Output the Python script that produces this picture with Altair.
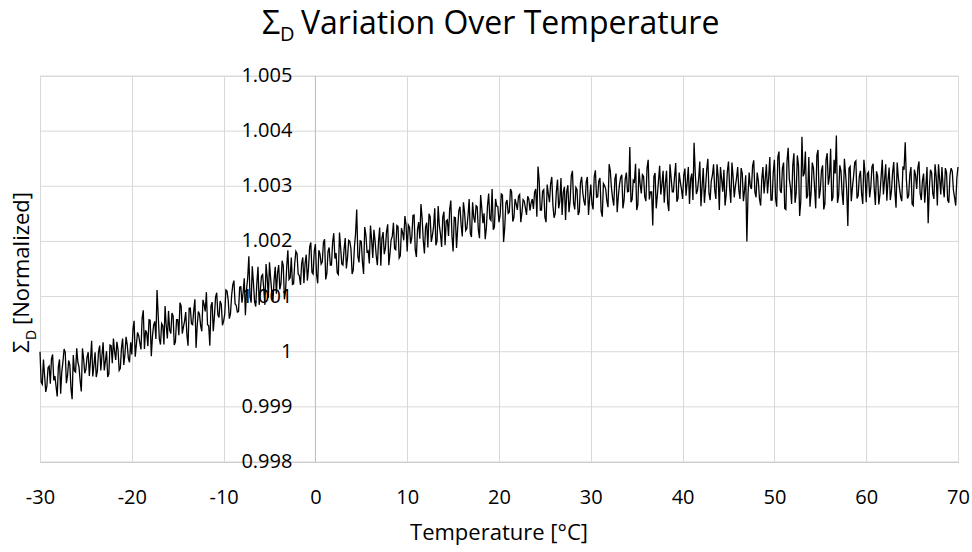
import altair as alt
import pandas as pd

# Temperature sweep: one block of readings per 10 °C.
# "a" readings at start + k*0.25 °C, "b" readings at start + 0.125 + k*0.25 °C
seg_starts = [-30, -20, -10, 0, 10, 20, 30, 40, 50, 60]
step = 0.25
half = 0.125

seg_m30 = [1.00000, 0.99941, 0.99957, 0.99938, 0.99974, 0.99987, 0.99948, 0.99937, 0.99973, 0.99924,
           0.99982, 0.99999, 0.99957, 0.99976, 0.99914, 0.99965, 1.00006, 0.99972, 0.99928, 0.99987,
           0.99968, 0.99999, 0.99984, 0.99955, 0.99999, 0.99965, 1.00011, 0.99993, 0.99966, 1.00001,
           0.99960, 1.00011, 1.00024, 0.99985, 1.00004, 0.99970, 1.00024, 0.99995, 1.00013, 0.99981]
seg_m30_b = [0.99945, 0.99986, 0.99927, 0.99971, 0.99942, 0.99995, 0.99956, 0.99919, 0.99986, 0.99964,
             1.00005, 0.99943, 0.99984, 0.99933, 0.99994, 0.99963, 0.99981, 0.99947, 1.00006, 0.99961,
             0.99990, 0.99956, 1.00020, 0.99975, 0.99954, 1.00000, 0.99966, 1.00017, 0.99983, 0.99954,
             1.00012, 0.99979, 1.00000, 1.00018, 0.99966, 1.00007, 0.99976, 1.00027, 0.99988, 1.00017]
seg_m20 = [0.99995, 1.00056, 1.00013, 1.00029, 1.00004, 1.00075, 1.00039, 1.00010, 1.00057, 1.00028,
           1.00055, 1.00112, 1.00023, 1.00051, 1.00013, 1.00047, 1.00074, 1.00033, 1.00065, 1.00018,
           1.00058, 1.00089, 1.00033, 1.00056, 1.00031, 1.00079, 1.00051, 1.00075, 1.00007, 1.00073,
           1.00047, 1.00094, 1.00073, 1.00049, 1.00011, 1.00090, 1.00064, 1.00107, 1.00062, 1.00086]
seg_m20_b = [1.00040, 0.99991, 1.00035, 1.00016, 1.00061, 1.00005, 1.00034, 1.00058, 0.99992, 1.00048,
             1.00023, 1.00066, 1.00013, 1.00047, 1.00083, 1.00024, 1.00039, 1.00070, 1.00012, 1.00058,
             1.00030, 1.00083, 1.00045, 1.00072, 1.00011, 1.00079, 1.00049, 1.00095, 1.00047, 1.00068,
             1.00037, 1.00086, 1.00108, 1.00047, 1.00083, 1.00037, 1.00099, 1.00067, 1.00092, 1.00048]
seg_m10 = [1.00055, 1.00112, 1.00094, 1.00069, 1.00121, 1.00087, 1.00072, 1.00117, 1.00089, 1.00133,
           1.00113, 1.00173, 1.00089, 1.00125, 1.00082, 1.00154, 1.00111, 1.00140, 1.00085, 1.00134,
           1.00162, 1.00108, 1.00130, 1.00105, 1.00157, 1.00124, 1.00156, 1.00110, 1.00184, 1.00134,
           1.00122, 1.00161, 1.00178, 1.00138, 1.00160, 1.00124, 1.00176, 1.00152, 1.00198, 1.00141]
seg_m10_b = [1.00068, 1.00110, 1.00060, 1.00102, 1.00129, 1.00084, 1.00073, 1.00118, 1.00107, 1.00066,
             1.00134, 1.00100, 1.00155, 1.00091, 1.00125, 1.00085, 1.00137, 1.00114, 1.00159, 1.00098,
             1.00133, 1.00092, 1.00154, 1.00143, 1.00113, 1.00165, 1.00095, 1.00154, 1.00131, 1.00171,
             1.00123, 1.00182, 1.00141, 1.00121, 1.00171, 1.00160, 1.00129, 1.00190, 1.00144, 1.00182]
seg_0 = [1.00195, 1.00124, 1.00177, 1.00163, 1.00204, 1.00142, 1.00189, 1.00157, 1.00215, 1.00179,
         1.00140, 1.00188, 1.00157, 1.00206, 1.00171, 1.00200, 1.00141, 1.00190, 1.00258, 1.00162,
         1.00200, 1.00141, 1.00212, 1.00183, 1.00229, 1.00170, 1.00201, 1.00157, 1.00225, 1.00206,
         1.00177, 1.00218, 1.00157, 1.00203, 1.00234, 1.00185, 1.00227, 1.00174, 1.00216, 1.00246]
seg_0_b = [1.00140, 1.00184, 1.00159, 1.00198, 1.00131, 1.00182, 1.00157, 1.00198, 1.00169, 1.00143,
           1.00216, 1.00159, 1.00186, 1.00151, 1.00202, 1.00186, 1.00148, 1.00214, 1.00173, 1.00201,
           1.00162, 1.00226, 1.00181, 1.00160, 1.00203, 1.00221, 1.00174, 1.00200, 1.00156, 1.00217,
           1.00188, 1.00231, 1.00178, 1.00209, 1.00187, 1.00229, 1.00170, 1.00224, 1.00202, 1.00230]
seg_10 = [1.00182, 1.00226, 1.00207, 1.00248, 1.00172, 1.00235, 1.00268, 1.00202, 1.00226, 1.00189,
          1.00245, 1.00211, 1.00260, 1.00201, 1.00229, 1.00190, 1.00254, 1.00237, 1.00210, 1.00274,
          1.00182, 1.00243, 1.00224, 1.00263, 1.00209, 1.00253, 1.00224, 1.00277, 1.00208, 1.00244,
          1.00265, 1.00221, 1.00284, 1.00233, 1.00204, 1.00265, 1.00241, 1.00295, 1.00226, 1.00264]
seg_10_b = [1.00230, 1.00196, 1.00247, 1.00185, 1.00222, 1.00205, 1.00242, 1.00178, 1.00234, 1.00250,
            1.00199, 1.00227, 1.00193, 1.00264, 1.00213, 1.00244, 1.00193, 1.00239, 1.00258, 1.00211,
            1.00244, 1.00188, 1.00256, 1.00230, 1.00271, 1.00220, 1.00247, 1.00215, 1.00271, 1.00234,
            1.00263, 1.00206, 1.00260, 1.00251, 1.00225, 1.00287, 1.00238, 1.00221, 1.00277, 1.00263]
seg_20 = [1.00235, 1.00286, 1.00199, 1.00270, 1.00251, 1.00295, 1.00236, 1.00277, 1.00257, 1.00285,
          1.00252, 1.00273, 1.00248, 1.00277, 1.00270, 1.00259, 1.00295, 1.00336, 1.00257, 1.00291,
          1.00244, 1.00303, 1.00271, 1.00317, 1.00243, 1.00291, 1.00260, 1.00315, 1.00289, 1.00239,
          1.00302, 1.00274, 1.00328, 1.00258, 1.00294, 1.00254, 1.00317, 1.00273, 1.00308, 1.00248]
seg_20_b = [1.00248, 1.00284, 1.00225, 1.00275, 1.00253, 1.00290, 1.00243, 1.00268, 1.00282, 1.00235,
            1.00276, 1.00261, 1.00282, 1.00256, 1.00277, 1.00289, 1.00245, 1.00311, 1.00257, 1.00294,
            1.00235, 1.00286, 1.00305, 1.00265, 1.00251, 1.00312, 1.00273, 1.00248, 1.00299, 1.00290,
            1.00253, 1.00319, 1.00270, 1.00298, 1.00248, 1.00306, 1.00289, 1.00265, 1.00317, 1.00278]
seg_30 = [1.00303, 1.00258, 1.00329, 1.00281, 1.00315, 1.00245, 1.00301, 1.00273, 1.00340, 1.00297,
          1.00265, 1.00323, 1.00282, 1.00316, 1.00260, 1.00313, 1.00290, 1.00371, 1.00276, 1.00308,
          1.00257, 1.00332, 1.00287, 1.00318, 1.00273, 1.00348, 1.00290, 1.00229, 1.00324, 1.00284,
          1.00337, 1.00304, 1.00270, 1.00328, 1.00255, 1.00315, 1.00290, 1.00342, 1.00278, 1.00308]
seg_30_b = [1.00268, 1.00318, 1.00280, 1.00310, 1.00255, 1.00305, 1.00295, 1.00262, 1.00328, 1.00278,
            1.00313, 1.00253, 1.00303, 1.00321, 1.00275, 1.00325, 1.00291, 1.00271, 1.00311, 1.00341,
            1.00266, 1.00304, 1.00321, 1.00281, 1.00333, 1.00276, 1.00290, 1.00318, 1.00260, 1.00310,
            1.00285, 1.00328, 1.00305, 1.00270, 1.00340, 1.00290, 1.00318, 1.00272, 1.00325, 1.00295]
seg_40 = [1.00277, 1.00332, 1.00308, 1.00268, 1.00323, 1.00379, 1.00286, 1.00314, 1.00264, 1.00333,
          1.00297, 1.00350, 1.00275, 1.00320, 1.00293, 1.00340, 1.00257, 1.00313, 1.00330, 1.00285,
          1.00345, 1.00270, 1.00317, 1.00300, 1.00335, 1.00277, 1.00323, 1.00293, 1.00200, 1.00325,
          1.00295, 1.00347, 1.00280, 1.00310, 1.00265, 1.00335, 1.00313, 1.00287, 1.00353, 1.00275]
seg_40_b = [1.00320, 1.00283, 1.00335, 1.00313, 1.00275, 1.00325, 1.00293, 1.00345, 1.00300, 1.00270,
            1.00330, 1.00287, 1.00310, 1.00340, 1.00277, 1.00317, 1.00335, 1.00290, 1.00265, 1.00327,
            1.00297, 1.00343, 1.00280, 1.00315, 1.00293, 1.00333, 1.00273, 1.00320, 1.00285, 1.00300,
            1.00337, 1.00290, 1.00325, 1.00277, 1.00313, 1.00287, 1.00340, 1.00315, 1.00275, 1.00325]
seg_50 = [1.00348, 1.00263, 1.00363, 1.00288, 1.00343, 1.00258, 1.00370, 1.00298, 1.00338, 1.00270,
          1.00356, 1.00246, 1.00390, 1.00323, 1.00278, 1.00353, 1.00288, 1.00333, 1.00260, 1.00366,
          1.00293, 1.00338, 1.00268, 1.00360, 1.00318, 1.00273, 1.00348, 1.00392, 1.00283, 1.00328,
          1.00266, 1.00323, 1.00228, 1.00336, 1.00298, 1.00343, 1.00278, 1.00318, 1.00286, 1.00348]
seg_50_b = [1.00278, 1.00353, 1.00293, 1.00333, 1.00260, 1.00346, 1.00313, 1.00268, 1.00360, 1.00288,
            1.00338, 1.00273, 1.00318, 1.00363, 1.00283, 1.00263, 1.00343, 1.00298, 1.00356, 1.00278,
            1.00328, 1.00258, 1.00348, 1.00303, 1.00368, 1.00280, 1.00323, 1.00270, 1.00338, 1.00288,
            1.00350, 1.00293, 1.00333, 1.00273, 1.00318, 1.00346, 1.00283, 1.00328, 1.00268, 1.00323]
seg_60 = [1.00271, 1.00326, 1.00298, 1.00341, 1.00266, 1.00318, 1.00286, 1.00348, 1.00311, 1.00274,
          1.00334, 1.00291, 1.00344, 1.00261, 1.00316, 1.00281, 1.00336, 1.00380, 1.00278, 1.00321,
          1.00268, 1.00330, 1.00295, 1.00345, 1.00275, 1.00323, 1.00300, 1.00233, 1.00330, 1.00287,
          1.00340, 1.00265, 1.00313, 1.00335, 1.00280, 1.00325, 1.00270, 1.00333, 1.00293, 1.00265,
          1.00335]
seg_60_b = [1.00323, 1.00280, 1.00335, 1.00295, 1.00327, 1.00267, 1.00317, 1.00285, 1.00340, 1.00310,
            1.00275, 1.00325, 1.00290, 1.00343, 1.00297, 1.00273, 1.00330, 1.00313, 1.00283, 1.00335,
            1.00265, 1.00320, 1.00333, 1.00287, 1.00310, 1.00270, 1.00335, 1.00295, 1.00325, 1.00277,
            1.00317, 1.00340, 1.00285, 1.00300, 1.00333, 1.00275, 1.00320, 1.00327, 1.00280, 1.00315]

segments_a = [seg_m30, seg_m20, seg_m10, seg_0, seg_10, seg_20, seg_30, seg_40, seg_50, seg_60]
segments_b = [seg_m30_b, seg_m20_b, seg_m10_b, seg_0_b, seg_10_b, seg_20_b, seg_30_b, seg_40_b,
              seg_50_b, seg_60_b]

x_ticks = [-30, -20, -10, 0, 10, 20, 30, 40, 50, 60, 70]
y_ticks = [0.998, 0.999, 1.0, 1.001, 1.002, 1.003, 1.004, 1.005]
y_labels = ["0.998", "0.999", "1", "1.001", "1.002", "1.003", "1.004", "1.005"]

title_main = "Variation Over Temperature"
sigma = "Σ"
sub_d = "D"
y_title_rest = "[Normalized]"
x_title = "Temperature [°C]"

temps, vals = [], []
for start, seg_a, seg_b in zip(seg_starts, segments_a, segments_b):
    for i, v in enumerate(seg_a):
        temps.append(start + i * step)
        vals.append(v)
    for i, v in enumerate(seg_b):
        temps.append(start + half + i * step)
        vals.append(v)
df = pd.DataFrame({"temp": temps, "sigma": vals}).sort_values("temp").reset_index(drop=True)

W, H = 918, 386
FONT = "Open Sans"
xs = alt.Scale(domain=[x_ticks[0], x_ticks[-1]], nice=False, zero=False)
ys = alt.Scale(domain=[y_ticks[0], y_ticks[-1]], nice=False, zero=False)

x_axis = alt.Axis(
    values=x_ticks, grid=True, gridColor="#d9d9d9", gridWidth=1,
    ticks=False, domainColor="#bfbfbf", domainWidth=1,
    labelPadding=25, labelFontSize=20, labelColor="black", labelFont=FONT,
    labelFlush=False, labelOverlap=False, labelExpr="datum.value + ''",
    title=None)

grid_y = alt.Chart(pd.DataFrame({"v": y_ticks})).mark_rule(
    color="#d9d9d9", strokeWidth=1
).encode(
    y=alt.Y("v:Q", scale=ys, axis=None),
    x=alt.value(0),
    x2=alt.value(W),
)

# vertical value axis line crossing at 0 °C
zero_axis = alt.Chart(pd.DataFrame({"temp": [0]})).mark_rule(
    color="#bfbfbf", strokeWidth=1
).encode(
    x=alt.X("temp:Q", scale=xs, axis=x_axis),
    y=alt.value(0),
    y2=alt.value(H),
)

# value-axis labels, drawn next to the crossing axis
y_lab = alt.Chart(pd.DataFrame({"v": y_ticks, "lab": y_labels, "temp": [0] * len(y_ticks)})).mark_text(
    align="right", baseline="middle", dx=-23, fontSize=20, color="black", font=FONT
).encode(
    y=alt.Y("v:Q", scale=ys, axis=None),
    x=alt.X("temp:Q", scale=xs, axis=x_axis),
    text="lab:N",
)

line = alt.Chart(df).mark_line(color="black", strokeWidth=1.3).encode(
    x=alt.X("temp:Q", scale=xs, axis=x_axis),
    y=alt.Y("sigma:Q", scale=ys, axis=None),
)


def txt(s, x, y, size, align="left", angle=0):
    return alt.Chart(pd.DataFrame({"t": [s]})).mark_text(
        text=s, fontSize=size, align=align, baseline="alphabetic",
        angle=angle, color="black", font=FONT
    ).encode(x=alt.value(x), y=alt.value(y))


layers = [
    grid_y,
    zero_axis,
    y_lab,
    line,
    # chart title with subscript
    txt(sigma, 240, -42, 32, align="right"),
    txt(sub_d, 240, -35, 20),
    txt(title_main, 261, -42, 32),
    # y-axis title (rotated) with subscript
    txt(sigma, -11.4, 277, 22, angle=270),
    txt(sub_d, -4, 264, 14, angle=270),
    txt(y_title_rest, -11.4, 249, 22, angle=270),
    # x-axis title
    txt(x_title, W / 2, 464, 22, align="center"),
]

chart = alt.layer(*layers).properties(
    width=W, height=H,
    autosize=alt.AutoSizeParams(type="none"),
    padding={"left": 40, "top": 76, "right": 14, "bottom": 90},
    background="white",
).configure_view(stroke=None).configure(font=FONT)

chart.save("out.html", embed_options={"renderer": "svg", "actions": False})
